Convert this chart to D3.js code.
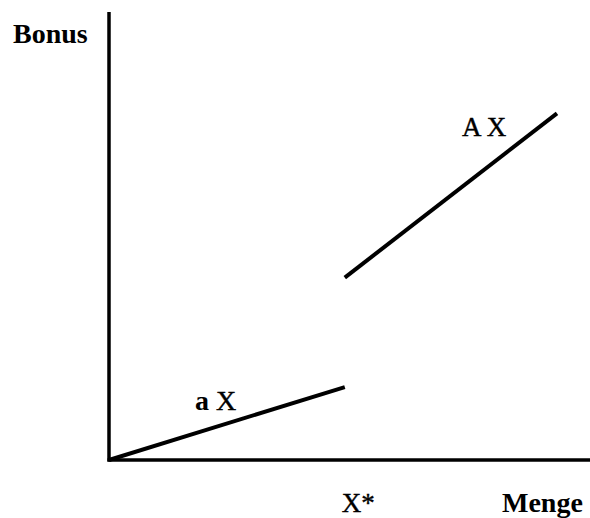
<!DOCTYPE html>
<html>
<head>
<meta charset="utf-8">
<script src="https://cdn.jsdelivr.net/npm/d3@7"></script>
<style>
  body { margin: 0; background: #fff; }
  text { font-family: "Liberation Serif", "Times New Roman", serif; fill: #000; }
  .reg { stroke: #000; stroke-width: 0.4; }
</style>
</head>
<body>
<div id="chart"></div>
<script>
// Bonus schedule: a*X below X*, A*X from X* on
var lowX = [0, 1];
var lowY = [0, 1];
var highX = [1, 1.9];
var highY = [2.5, 4.75];

var axisLabels = ["Bonus", "Menge"];
var tickLabels = ["X*"];
var lineLabels = ["a X", "A X"];

var width = 590, height = 518;

var svg = d3.select("#chart").append("svg")
  .attr("width", width)
  .attr("height", height);

var x = d3.scaleLinear().domain([0, 2.04]).range([109, 590]);
var y = d3.scaleLinear().domain([0, 6.14]).range([460, 12]);

// axes
svg.append("line")
  .attr("x1", x(0)).attr("y1", y(0) + 1.5)
  .attr("x2", x(0)).attr("y2", y(6.14))
  .attr("stroke", "#000").attr("stroke-width", 3.5);
svg.append("line")
  .attr("x1", x(0) - 1.5).attr("y1", y(0))
  .attr("x2", x(2.04)).attr("y2", y(0))
  .attr("stroke", "#000").attr("stroke-width", 3.5);

var line = d3.line()
  .x(function(d) { return x(d[0]); })
  .y(function(d) { return y(d[1]); });

var segs = [d3.zip(lowX, lowY), d3.zip(highX, highY)];
svg.selectAll("path.seg")
  .data(segs)
  .enter().append("path")
  .attr("class", "seg")
  .attr("d", line)
  .attr("fill", "none")
  .attr("stroke", "#000")
  .attr("stroke-width", 4);

// labels
svg.append("text")
  .attr("x", 13).attr("y", 43)
  .attr("font-size", 28).attr("font-weight", "bold")
  .text(axisLabels[0]);
svg.append("text")
  .attr("x", 502).attr("y", 512)
  .attr("font-size", 28).attr("font-weight", "bold")
  .text(axisLabels[1]);
svg.append("text")
  .attr("class", "reg")
  .attr("x", x(1) - 3).attr("y", 512)
  .attr("font-size", 27)
  .text(tickLabels[0]);

var lo = svg.append("text")
  .attr("x", 195).attr("y", 410)
  .attr("font-size", 28);
lo.append("tspan").attr("font-weight", "bold").text(lineLabels[0].split(" ")[0]);
lo.append("tspan").attr("class", "reg").text(" " + lineLabels[0].split(" ")[1]);

svg.append("text")
  .attr("class", "reg")
  .attr("x", 462).attr("y", 136)
  .attr("font-size", 27)
  .text(lineLabels[1]);
</script>
</body>
</html>
